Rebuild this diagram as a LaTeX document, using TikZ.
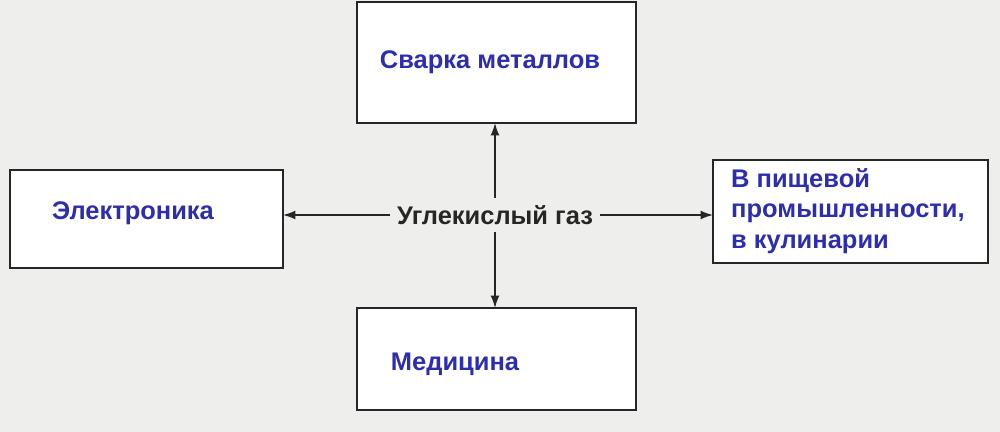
\documentclass[tikz,border=0pt]{standalone}
\usepackage{fontspec}
\setmainfont{Liberation Sans}
\definecolor{txtblue}{RGB}{45,45,175}
\definecolor{paper}{RGB}{238,238,236}
\usetikzlibrary{arrows.meta}
\begin{document}
\begin{tikzpicture}[x=0.02cm,y=-0.02cm,
  box/.style={draw=black!85,line width=0.8pt,fill=white},
  lbl/.style={font=\bfseries\fontsize{14.5}{17.5}\selectfont,text=txtblue},
  arr/.style={-{Latex[length=7pt,width=5pt]},line width=0.8pt,black!85}]
\fill[paper] (0,0) rectangle (1000,432);
\useasboundingbox (0,0) rectangle (1000,432);
\draw[box] (357,2) rectangle (636,123);
\draw[box] (10,170) rectangle (283,268);
\draw[box] (713,160) rectangle (988,263);
\draw[box] (357,308) rectangle (636,410);
\coordinate (top) at (495,123);
\coordinate (left) at (283,215);
\coordinate (right) at (713,215);
\coordinate (bot) at (495,308);
\node[lbl] (t1) at (490,62) {Сварка металлов};
\node[lbl] (t2) at (133,213) {Электроника};
\node[lbl,align=left,anchor=west] (t3) at (725,211) {В пищевой\\промышленности,\\в кулинарии};
\node[lbl] (t4) at (455,364) {Медицина};
\node[font=\bfseries\fontsize{14.5}{17.5}\selectfont,text=black!85,inner sep=4pt] (c) at (495,215) {Углекислый газ};
\draw[arr] (c.north) -- (top);
\draw[arr] (c.west) -- (left);
\draw[arr] (c.east) -- (right);
\draw[arr] (c.south) -- (bot);
\end{tikzpicture}
\end{document}
